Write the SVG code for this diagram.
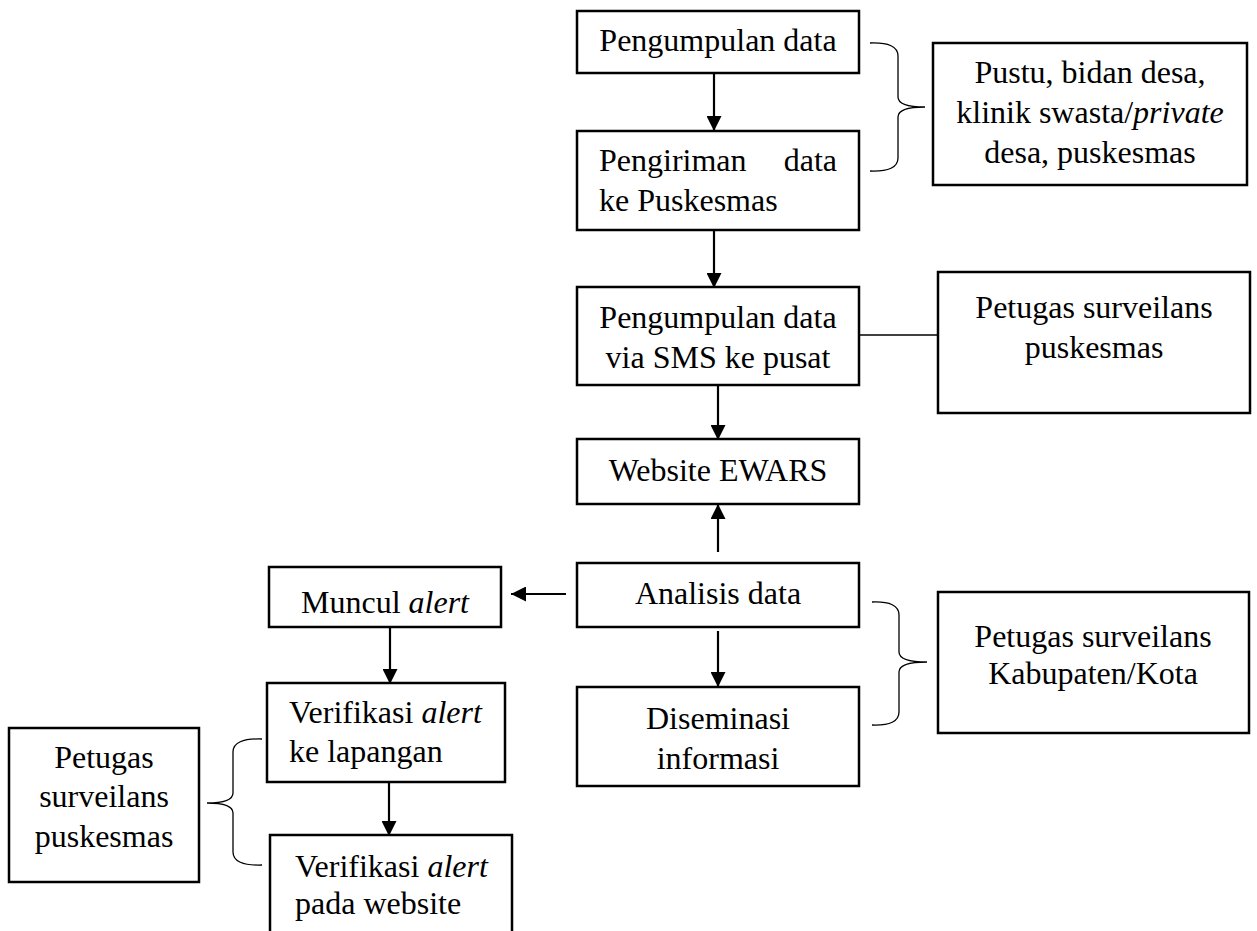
<svg xmlns="http://www.w3.org/2000/svg" width="1257" height="931" viewBox="0 0 1257 931">
<style>
.box{fill:#fff;stroke:#000;stroke-width:2.5}
.t{font-family:"Liberation Serif","Times New Roman",serif;font-size:32px;fill:#000}
.c{text-anchor:middle}
.i{font-style:italic}
.arrow{stroke:#000;stroke-width:2.2;fill:none;marker-end:url(#ah)}
.thin{stroke:#000;stroke-width:1.3;fill:none}
</style>
<defs>
<marker id="ah" markerUnits="userSpaceOnUse" markerWidth="15" markerHeight="15" refX="15" refY="7.5" orient="auto">
<path d="M0,0 L15,7.5 L0,15 Z" fill="#000"/>
</marker>
</defs>
<rect width="1257" height="931" fill="#fff"/>
<g id="connectors">
<line class="arrow" x1="714" y1="73" x2="714" y2="131"/>
<line class="arrow" x1="714" y1="230" x2="714" y2="288"/>
<line class="arrow" x1="718" y1="385" x2="718" y2="440"/>
<line class="arrow" x1="718" y1="552" x2="718" y2="504"/>
<line class="arrow" x1="718" y1="631" x2="718" y2="687"/>
<line class="arrow" x1="566" y1="594" x2="511" y2="594"/>
<line class="arrow" x1="390" y1="627" x2="390" y2="684"/>
<line class="arrow" x1="389" y1="782" x2="389" y2="836"/>
<line class="thin" x1="859" y1="335" x2="938" y2="335"/>
<path class="thin" d="M870,43 Q898,42 898,56 L898,97 Q898,107 925,107 Q898,107 898,117 L898,158 Q898,172 870,171"/>
<path class="thin" d="M872,602 Q899,601 899,615 L899,652 Q899,662 927,662 Q899,662 899,672 L899,712 Q899,726 872,725"/>
<path class="thin" d="M262,739 Q233,738 233,752 L233,793 Q233,803 207,803 Q233,803 233,813 L233,852 Q233,866 262,865"/>
</g>
<g id="n1"><rect class="box" x="577" y="11" width="282" height="62"/><text class="t c" x="718" y="51">Pengumpulan data</text></g>
<g id="n2"><rect class="box" x="577" y="131" width="282" height="99"/><text class="t" x="599" y="171">Pengiriman</text><text class="t" x="837" y="171" text-anchor="end">data</text><text class="t" x="599" y="211">ke Puskesmas</text></g>
<g id="n3"><rect class="box" x="577" y="287" width="282" height="98"/><text class="t c" x="718" y="328">Pengumpulan data</text><text class="t c" x="718" y="368">via SMS ke pusat</text></g>
<g id="n4"><rect class="box" x="577" y="439" width="282" height="65"/><text class="t c" x="718" y="481">Website EWARS</text></g>
<g id="n5"><rect class="box" x="577" y="563" width="282" height="64"/><text class="t c" x="718" y="604">Analisis data</text></g>
<g id="n6"><rect class="box" x="577" y="687" width="282" height="99"/><text class="t c" x="718" y="729">Diseminasi</text><text class="t c" x="718" y="769">informasi</text></g>
<g id="n7"><rect class="box" x="269" y="567" width="232" height="60"/><text class="t c" x="385" y="613">Muncul <tspan class="i">alert</tspan></text></g>
<g id="n8"><rect class="box" x="267" y="683" width="238" height="99"/><text class="t" x="289" y="723">Verifikasi <tspan class="i">alert</tspan></text><text class="t" x="289" y="762">ke lapangan</text></g>
<g id="n9"><rect class="box" x="270" y="835" width="242" height="110"/><text class="t" x="295" y="877">Verifikasi <tspan class="i">alert</tspan></text><text class="t" x="295" y="914">pada website</text></g>
<g id="n10"><rect class="box" x="933" y="43" width="314" height="142"/><text class="t c" x="1090" y="83">Pustu, bidan desa,</text><text class="t c" x="1090" y="123">klinik swasta/<tspan class="i">private</tspan></text><text class="t c" x="1090" y="163">desa, puskesmas</text></g>
<g id="n11"><rect class="box" x="938" y="272" width="312" height="141"/><text class="t c" x="1094" y="318">Petugas surveilans</text><text class="t c" x="1094" y="358">puskesmas</text></g>
<g id="n12"><rect class="box" x="938" y="592" width="311" height="141"/><text class="t c" x="1093" y="647">Petugas surveilans</text><text class="t c" x="1093" y="684">Kabupaten/Kota</text></g>
<g id="n13"><rect class="box" x="9" y="728" width="190" height="154"/><text class="t c" x="104" y="768">Petugas</text><text class="t c" x="104" y="807">surveilans</text><text class="t c" x="104" y="847">puskesmas</text></g>
</svg>
